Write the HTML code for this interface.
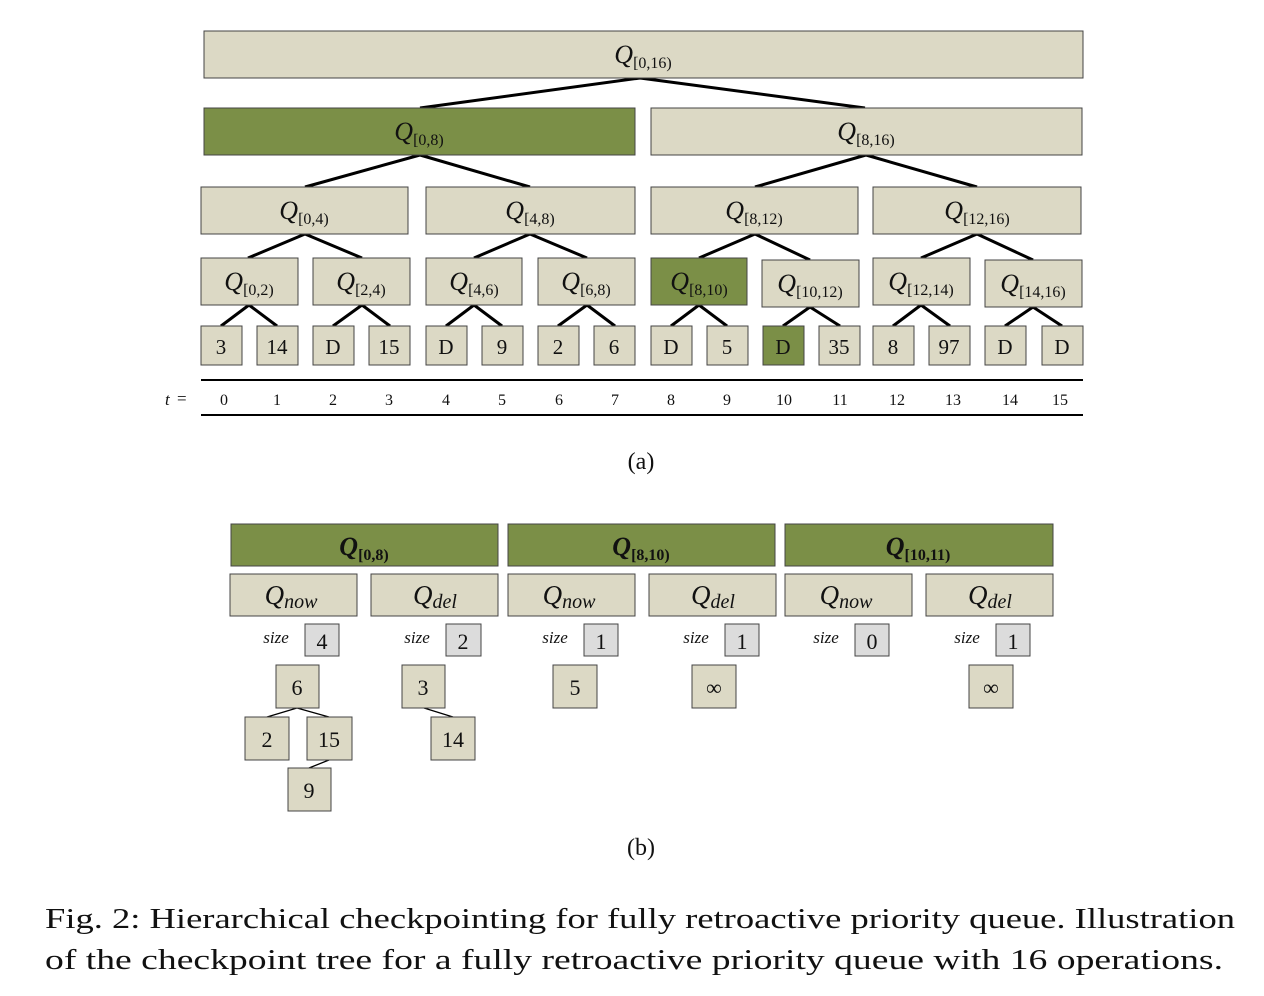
<!DOCTYPE html>
<html><head><meta charset="utf-8"><style>
body{margin:0;background:#fff}
svg{display:block}
text{font-family:"Liberation Serif",serif;fill:#111}
.b{fill:#dcd9c5;stroke:#444;stroke-width:1}
.g{fill:#7b8f47;stroke:#444;stroke-width:1}
.s{fill:#dcdcdc;stroke:#444;stroke-width:1}
.e{stroke:#000;stroke-width:3;fill:none}
.t{stroke:#000;stroke-width:1.3;fill:none}
</style></head><body>
<svg width="1264" height="996" viewBox="0 0 1264 996">
<g class="e">
<path d="M640 78 L420 108 M640 78 L865 108"/>
<path d="M420 155 L305 187 M420 155 L530 187 M866 155 L755 187 M866 155 L977 187"/>
<path d="M305 234 L248 258 M305 234 L362 258 M530 234 L474 258 M530 234 L587 258 M755 234 L699 258 M755 234 L810 260 M977 234 L921 258 M977 234 L1033 260"/>
<path d="M249 305 L221 326 M249 305 L277 326 M362 305 L333 326 M362 305 L390 326 M474 305 L446 326 M474 305 L502 326 M587 305 L558 326 M587 305 L615 326 M699 305 L671 326 M699 305 L727 326 M810 307 L783 326 M810 307 L840 326 M921 305 L893 326 M921 305 L950 326 M1033 307 L1005 326 M1033 307 L1062 326"/>
</g>
<rect class="b" x="204" y="31" width="879" height="47"/>
<rect class="g" x="204" y="108" width="431" height="47"/>
<rect class="b" x="651" y="108" width="431" height="47"/>
<rect class="b" x="201" y="187" width="207" height="47"/>
<rect class="b" x="426" y="187" width="209" height="47"/>
<rect class="b" x="651" y="187" width="207" height="47"/>
<rect class="b" x="873" y="187" width="208" height="47"/>
<rect class="b" x="201" y="258" width="97" height="47"/>
<rect class="b" x="313" y="258" width="97" height="47"/>
<rect class="b" x="426" y="258" width="96" height="47"/>
<rect class="b" x="538" y="258" width="97" height="47"/>
<rect class="g" x="651" y="258" width="96" height="47"/>
<rect class="b" x="762" y="260" width="97" height="47"/>
<rect class="b" x="873" y="258" width="97" height="47"/>
<rect class="b" x="985" y="260" width="97" height="47"/>
<g font-size="26" text-anchor="middle">
<text x="643" y="63"><tspan font-style="italic">Q</tspan><tspan font-size="16" dy="5">[0,16)</tspan></text>
<text x="419" y="140"><tspan font-style="italic">Q</tspan><tspan font-size="16" dy="5">[0,8)</tspan></text>
<text x="866" y="140"><tspan font-style="italic">Q</tspan><tspan font-size="16" dy="5">[8,16)</tspan></text>
<text x="304" y="219"><tspan font-style="italic">Q</tspan><tspan font-size="16" dy="5">[0,4)</tspan></text>
<text x="530" y="219"><tspan font-style="italic">Q</tspan><tspan font-size="16" dy="5">[4,8)</tspan></text>
<text x="754" y="219"><tspan font-style="italic">Q</tspan><tspan font-size="16" dy="5">[8,12)</tspan></text>
<text x="977" y="219"><tspan font-style="italic">Q</tspan><tspan font-size="16" dy="5">[12,16)</tspan></text>
<text x="249" y="290"><tspan font-style="italic">Q</tspan><tspan font-size="16" dy="5">[0,2)</tspan></text>
<text x="361" y="290"><tspan font-style="italic">Q</tspan><tspan font-size="16" dy="5">[2,4)</tspan></text>
<text x="474" y="290"><tspan font-style="italic">Q</tspan><tspan font-size="16" dy="5">[4,6)</tspan></text>
<text x="586" y="290"><tspan font-style="italic">Q</tspan><tspan font-size="16" dy="5">[6,8)</tspan></text>
<text x="699" y="290"><tspan font-style="italic">Q</tspan><tspan font-size="16" dy="5">[8,10)</tspan></text>
<text x="810" y="292"><tspan font-style="italic">Q</tspan><tspan font-size="16" dy="5">[10,12)</tspan></text>
<text x="921" y="290"><tspan font-style="italic">Q</tspan><tspan font-size="16" dy="5">[12,14)</tspan></text>
<text x="1033" y="292"><tspan font-style="italic">Q</tspan><tspan font-size="16" dy="5">[14,16)</tspan></text>
</g>
<g>
<rect class="b" x="201" y="326" width="41" height="39"/><rect class="b" x="257" y="326" width="41" height="39"/>
<rect class="b" x="313" y="326" width="41" height="39"/><rect class="b" x="369" y="326" width="41" height="39"/>
<rect class="b" x="426" y="326" width="41" height="39"/><rect class="b" x="482" y="326" width="41" height="39"/>
<rect class="b" x="538" y="326" width="41" height="39"/><rect class="b" x="594" y="326" width="41" height="39"/>
<rect class="b" x="651" y="326" width="41" height="39"/><rect class="b" x="707" y="326" width="41" height="39"/>
<rect class="g" x="763" y="326" width="41" height="39"/><rect class="b" x="819" y="326" width="41" height="39"/>
<rect class="b" x="873" y="326" width="41" height="39"/><rect class="b" x="929" y="326" width="41" height="39"/>
<rect class="b" x="985" y="326" width="41" height="39"/><rect class="b" x="1042" y="326" width="41" height="39"/>
</g>
<g font-size="21" text-anchor="middle">
<text x="221" y="354">3</text><text x="277" y="354">14</text><text x="333" y="354">D</text><text x="389" y="354">15</text>
<text x="446" y="354">D</text><text x="502" y="354">9</text><text x="558" y="354">2</text><text x="614" y="354">6</text>
<text x="671" y="354">D</text><text x="727" y="354">5</text><text x="783" y="354">D</text><text x="839" y="354">35</text>
<text x="893" y="354">8</text><text x="949" y="354">97</text><text x="1005" y="354">D</text><text x="1062" y="354">D</text>
</g>
<line x1="201" y1="380" x2="1083" y2="380" stroke="#000" stroke-width="2"/>
<line x1="201" y1="415" x2="1083" y2="415" stroke="#000" stroke-width="2"/>
<text x="165" y="405" font-size="17" font-style="italic">t</text><text x="177" y="404" font-size="17">=</text>
<g font-size="16" text-anchor="middle">
<text x="224" y="405">0</text><text x="277" y="405">1</text><text x="333" y="405">2</text><text x="389" y="405">3</text>
<text x="446" y="405">4</text><text x="502" y="405">5</text><text x="559" y="405">6</text><text x="615" y="405">7</text>
<text x="671" y="405">8</text><text x="727" y="405">9</text><text x="784" y="405">10</text><text x="840" y="405">11</text>
<text x="897" y="405">12</text><text x="953" y="405">13</text><text x="1010" y="405">14</text><text x="1060" y="405">15</text>
</g>
<text x="641" y="469" font-size="24" text-anchor="middle">(a)</text>

<rect class="g" x="231" y="524" width="267" height="42"/>
<rect class="g" x="508" y="524" width="267" height="42"/>
<rect class="g" x="785" y="524" width="268" height="42"/>
<g font-size="26" text-anchor="middle" font-weight="bold">
<text x="364" y="555"><tspan font-style="italic">Q</tspan><tspan font-size="16" dy="5">[0,8)</tspan></text>
<text x="641" y="555"><tspan font-style="italic">Q</tspan><tspan font-size="16" dy="5">[8,10)</tspan></text>
<text x="918" y="555"><tspan font-style="italic">Q</tspan><tspan font-size="16" dy="5">[10,11)</tspan></text>
</g>
<rect class="b" x="230" y="574" width="127" height="42"/>
<rect class="b" x="371" y="574" width="127" height="42"/>
<rect class="b" x="508" y="574" width="127" height="42"/>
<rect class="b" x="649" y="574" width="127" height="42"/>
<rect class="b" x="785" y="574" width="127" height="42"/>
<rect class="b" x="926" y="574" width="127" height="42"/>
<g font-size="27" text-anchor="middle" font-style="italic">
<text x="291" y="604">Q<tspan font-size="20" dy="4">now</tspan></text>
<text x="435" y="604">Q<tspan font-size="20" dy="4">del</tspan></text>
<text x="569" y="604">Q<tspan font-size="20" dy="4">now</tspan></text>
<text x="713" y="604">Q<tspan font-size="20" dy="4">del</tspan></text>
<text x="846" y="604">Q<tspan font-size="20" dy="4">now</tspan></text>
<text x="990" y="604">Q<tspan font-size="20" dy="4">del</tspan></text>
</g>
<g font-size="17" font-style="italic" text-anchor="middle">
<text x="276" y="643">size</text><text x="417" y="643">size</text><text x="555" y="643">size</text>
<text x="696" y="643">size</text><text x="826" y="643">size</text><text x="967" y="643">size</text>
</g>
<rect class="s" x="305" y="624" width="34" height="32"/>
<rect class="s" x="446" y="624" width="35" height="32"/>
<rect class="s" x="584" y="624" width="34" height="32"/>
<rect class="s" x="725" y="624" width="34" height="32"/>
<rect class="s" x="855" y="624" width="34" height="32"/>
<rect class="s" x="996" y="624" width="34" height="32"/>
<g font-size="22" text-anchor="middle">
<text x="322" y="649">4</text><text x="463" y="649">2</text><text x="601" y="649">1</text>
<text x="742" y="649">1</text><text x="872" y="649">0</text><text x="1013" y="649">1</text>
</g>
<g class="t">
<path d="M297 708 L267 717 M297 708 L329 717 M329 760 L309 768 M424 708 L453 717"/>
</g>
<rect class="b" x="276" y="665" width="43" height="43"/>
<rect class="b" x="245" y="717" width="44" height="43"/>
<rect class="b" x="307" y="717" width="45" height="43"/>
<rect class="b" x="288" y="768" width="43" height="43"/>
<rect class="b" x="402" y="665" width="43" height="43"/>
<rect class="b" x="431" y="717" width="44" height="43"/>
<rect class="b" x="553" y="665" width="44" height="43"/>
<rect class="b" x="692" y="665" width="44" height="43"/>
<rect class="b" x="969" y="665" width="44" height="43"/>
<g font-size="22" text-anchor="middle">
<text x="297" y="695">6</text><text x="267" y="747">2</text><text x="329" y="747">15</text>
<text x="309" y="798">9</text><text x="423" y="695">3</text><text x="453" y="747">14</text>
<text x="575" y="695">5</text><text x="714" y="695">∞</text><text x="991" y="695">∞</text>
</g>
<text x="641" y="855" font-size="24" text-anchor="middle">(b)</text>
<text x="45" y="928" font-size="29" textLength="1190" lengthAdjust="spacingAndGlyphs">Fig. 2: Hierarchical checkpointing for fully retroactive priority queue. Illustration</text>
<text x="45" y="969" font-size="29" textLength="1178" lengthAdjust="spacingAndGlyphs">of the checkpoint tree for a fully retroactive priority queue with 16 operations.</text>
</svg>
</body></html>
